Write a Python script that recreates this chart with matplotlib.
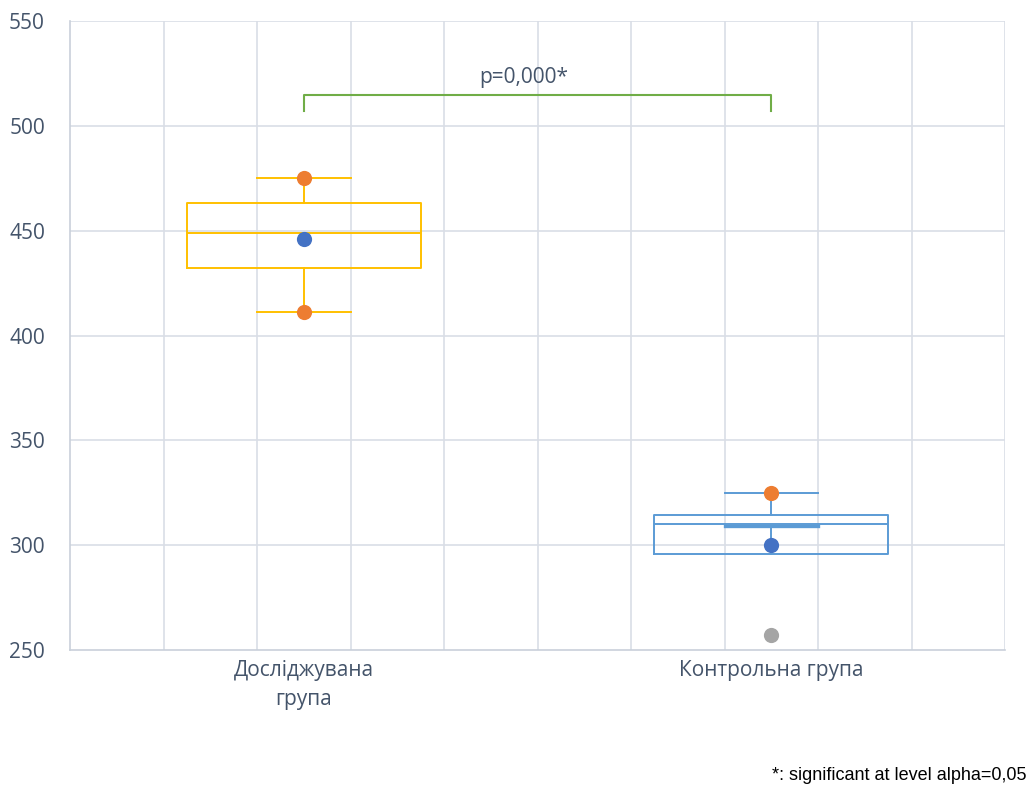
import matplotlib
matplotlib.use("Agg")
from matplotlib import pyplot as plt

groups = ["Досліджувана\nгрупа", "Контрольна група"]
q1 = [432, 296]
med = [449, 310]
q3 = [463, 314.5]
whis_lo = [411, 309]
whis_hi = [475, 325]
means = [446, 300]
extreme_pts = [[475, 411], [325]]
outliers = [[], [257]]
box_colors = ["#FFC000", "#5B9BD5"]
p_text = "p=0,000*"
note = "*: significant at level alpha=0,05"

positions = [2.5, 7.5]
grid_c = "#D9DEE6"
text_c = "#44546A"

fig = plt.figure(figsize=(10.26, 7.85), dpi=100)
ax = fig.add_axes([70 / 1026, 135 / 785, 935 / 1026, 629 / 785])

ax.set_xlim(0, 10)
ax.set_ylim(250, 550)
ax.set_yticks(range(250, 551, 50))
for x in range(1, 11):
    ax.axvline(x, color=grid_c, lw=1.2, zorder=0)
for y in range(300, 551, 50):
    ax.axhline(y, color=grid_c, lw=1.2, zorder=0)
ax.set_xticks([])
for s in ["top", "right"]:
    ax.spines[s].set_visible(False)
for s in ["left", "bottom"]:
    ax.spines[s].set_color("#C9D0DA")
    ax.spines[s].set_linewidth(1.2)
ax.tick_params(axis="y", length=0, pad=18, labelsize=15, labelcolor=text_c)
for lab in ax.get_yticklabels():
    lab.set_family("Open Sans")

for i in range(2):
    st = [{"med": med[i], "q1": q1[i], "q3": q3[i],
           "whislo": whis_lo[i], "whishi": whis_hi[i], "fliers": []}]
    c = box_colors[i]
    art = ax.bxp(st, positions=[positions[i]], widths=2.5, capwidths=1.0,
                 showfliers=False, manage_ticks=False,
                 boxprops=dict(color=c, lw=1.4),
                 medianprops=dict(color=c, lw=1.4),
                 whiskerprops=dict(color=c, lw=1.4),
                 capprops=dict(color=c, lw=1.4))
    if i == 1:
        art["caps"][0].set_linewidth(2.4)
    ax.scatter([positions[i]] * len(extreme_pts[i]), extreme_pts[i], s=120,
               color="#ED7D31", zorder=5, lw=0)
    ax.scatter([positions[i]], [means[i]], s=120, color="#4472C4", zorder=5, lw=0)
    if outliers[i]:
        ax.scatter([positions[i]] * len(outliers[i]), outliers[i], s=120,
                   color="#A5A5A5", zorder=5, lw=0)

# significance bracket
ax.plot([positions[0], positions[0], positions[1], positions[1]],
        [507, 514.5, 514.5, 507], color="#70AD47", lw=1.5, zorder=4)
ax.text(4.85, 523, p_text, ha="center", va="center", fontsize=15,
        color=text_c, family="Open Sans")

for i in range(2):
    ax.text(positions[i], 245, groups[i], ha="center", va="top", fontsize=15,
            color=text_c, family="Open Sans", linespacing=1.45)

fig.text(1026 / 1026, 1 - 775 / 785, note, ha="right", va="center",
         fontsize=13, color="black", family="Liberation Sans")

fig.savefig("out.png", dpi=100)
